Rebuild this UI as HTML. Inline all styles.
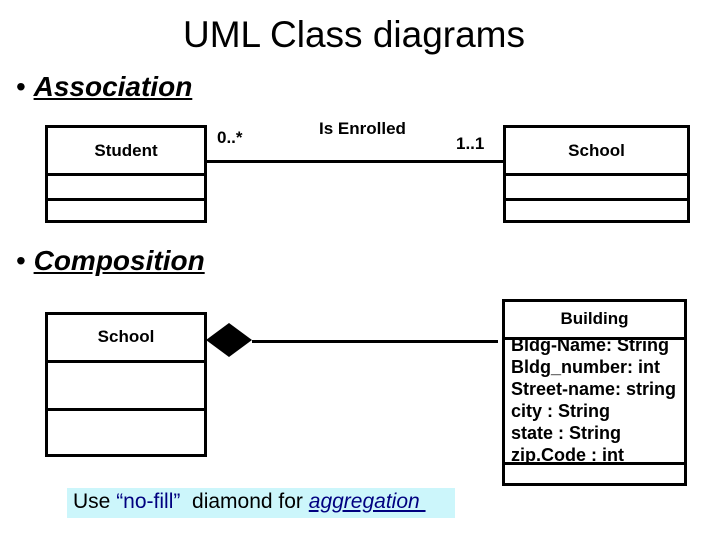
<!DOCTYPE html>
<html><head><style>
body{margin:0;width:720px;height:540px;background:#fff;position:relative;overflow:hidden;font-family:"Liberation Sans",Arial,sans-serif;}
div{position:absolute;}
.t{white-space:nowrap;font-weight:bold;font-size:17px;color:#000;}
.box{border:3px solid #000;box-sizing:border-box;}
.h{position:absolute;left:0;right:0;border-top:3px solid #000;}
</style></head><body>
<div class="t" style="left:0;width:708px;top:14px;text-align:center;font-size:37px;font-weight:normal;">UML Class diagrams</div>
<div class="t" style="left:16px;top:71px;font-size:28px;font-weight:normal;">• <i style="font-weight:bold;text-decoration:underline;">Association</i></div>
<div class="t" style="left:16px;top:245px;font-size:28px;font-weight:normal;">• <i style="font-weight:bold;text-decoration:underline;">Composition</i></div>

<div class="box" style="left:45px;top:125px;width:162px;height:98px;"><div class="h" style="top:45px"></div><div class="h" style="top:70px"></div></div>
<div class="t" style="left:45px;width:162px;text-align:center;top:141px;">Student</div>
<div style="left:206px;top:160px;width:298px;height:3px;background:#000"></div>
<div class="t" style="left:217px;top:128px;">0..*</div>
<div class="t" style="left:319px;top:119px;">Is Enrolled</div>
<div class="t" style="left:456px;top:134px;">1..1</div>
<div class="box" style="left:503px;top:125px;width:187px;height:98px;"><div class="h" style="top:45px"></div><div class="h" style="top:70px"></div></div>
<div class="t" style="left:503px;width:187px;text-align:center;top:141px;">School</div>

<div class="box" style="left:45px;top:312px;width:162px;height:145px;"><div class="h" style="top:45px"></div><div class="h" style="top:93px"></div></div>
<div class="t" style="left:45px;width:162px;text-align:center;top:327px;">School</div>
<svg style="position:absolute;left:206px;top:322px" width="50" height="36"><polygon points="0,18 23,1 46,18 23,35" fill="#000"/></svg>
<div style="left:252px;top:340px;width:246px;height:3px;background:#000"></div>
<div class="box" style="left:502px;top:299px;width:185px;height:187px;"><div class="h" style="top:35px"></div><div class="h" style="top:160px"></div></div>
<div class="t" style="left:502px;width:185px;text-align:center;top:309px;">Building</div>
<div class="t" style="left:511px;top:334px;line-height:22px;font-size:18px;">Bldg-Name: String<br>Bldg_number: int<br>Street-name: string<br>city : String<br>state : String<br>zip.Code : int</div>
<div style="left:67px;top:488px;width:388px;height:30px;background:#ccf6fb;"></div>
<div class="t" style="left:73px;top:490px;font-size:21px;font-weight:normal;">Use <span style="color:#000080">“no-fill”</span>&nbsp; diamond for <i style="color:#000080;text-decoration:underline;">aggregation&nbsp;</i></div>
</body></html>
